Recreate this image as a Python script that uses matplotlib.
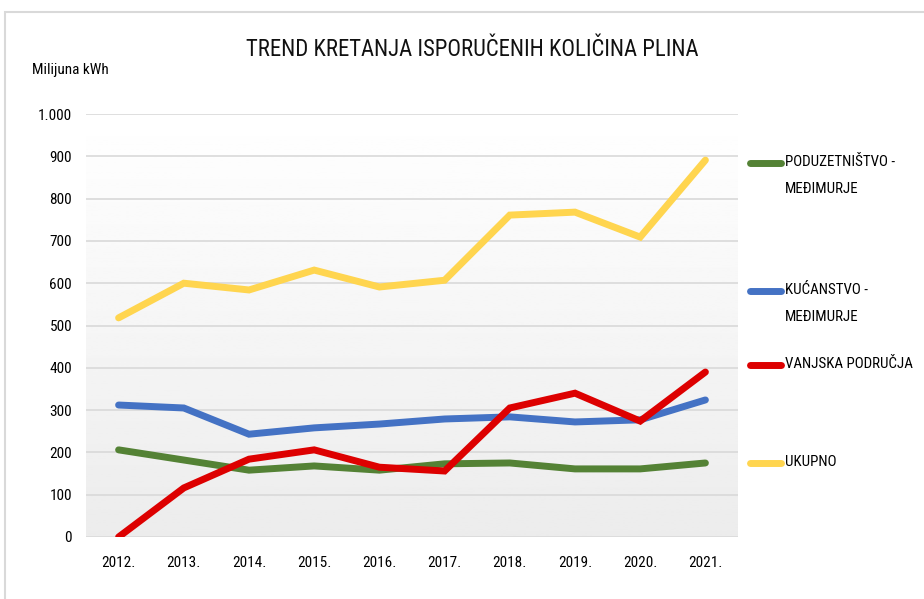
import numpy as np
import matplotlib
matplotlib.use("Agg")
import matplotlib.pyplot as plt
from matplotlib.lines import Line2D
from matplotlib.patches import Rectangle

plt.rcParams['font.family'] = ['Roboto Condensed', 'DejaVu Sans']

years = ['2012.', '2013.', '2014.', '2015.', '2016.', '2017.', '2018.', '2019.', '2020.', '2021.']
poduzetnistvo = [206, 182, 158, 168, 158, 173, 175, 161, 161, 175]
kucanstvo = [312, 305, 243, 258, 267, 279, 284, 272, 277, 324]
vanjska = [0, 116, 184, 206, 165, 156, 305, 340, 274, 390]
ukupno = [518, 600, 584, 631, 591, 607, 761, 768, 709, 891]

series = [
    ('PODUZETNIŠTVO -\nMEĐIMURJE', poduzetnistvo, '#548235'),
    ('KUĆANSTVO -\nMEĐIMURJE', kucanstvo, '#4472c4'),
    ('VANJSKA PODRUČJA', vanjska, '#dd0000'),
    ('UKUPNO', ukupno, '#ffd54f'),
]
yticks = [0, 100, 200, 300, 400, 500, 600, 700, 800, 900, 1000]
ytick_labels = ['0', '100', '200', '300', '400', '500', '600', '700', '800', '900', '1.000']

W, H = 924, 599
fig = plt.figure(figsize=(W / 100, H / 100), dpi=100)
fig.patch.set_facecolor('white')

# outer chart border
fig.add_artist(Rectangle((5 / W, -0.1), 1.2, 1 - 12 / H + 0.1, transform=fig.transFigure,
                         fill=False, edgecolor='#d9d9d9', linewidth=1.5))

ax = fig.add_axes([86 / W, 1 - 537 / H, (738 - 86) / W, (537 - 114) / H])
x = np.arange(len(years))
ax.set_xlim(-0.5, len(years) - 0.5)
ax.set_ylim(0, 1000)

# gradient background
grad = np.linspace(0.925, 1.0, 256).reshape(-1, 1)
ax.imshow(grad, extent=(-0.5, len(years) - 0.5, 0, 1000), aspect='auto', origin='lower',
          cmap='gray', vmin=0, vmax=1, zorder=0)

for v in yticks:
    ax.axhline(v, color='#d9d9d9', linewidth=1.2, zorder=1)

for label, vals, color in series:
    ax.plot(x, vals, color=color, linewidth=5, solid_capstyle='round', solid_joinstyle='miter', zorder=3)

ax.set_xticks(x)
ax.set_xticklabels(years, fontsize=11)
ax.set_yticks(yticks)
ax.set_yticklabels(ytick_labels, fontsize=11)
ax.tick_params(length=0)
ax.tick_params(axis='x', pad=14)
ax.tick_params(axis='y', pad=10)
for s in ax.spines.values():
    s.set_visible(False)

fig.text(472 / W, 1 - 50 / H, 'TREND KRETANJA ISPORUČENIH KOLIČINA PLINA', ha='center', va='center',
         fontsize=16.4, color='#111111')
fig.text(32 / W, 1 - 70 / H, 'Milijuna kWh', ha='left', va='center', fontsize=11)

# legend
leg_y = [163, 291, 365, 463]
for (label, vals, color), yy in zip(series, leg_y):
    fig.add_artist(Line2D([750 / W, 781 / W], [1 - yy / H] * 2, transform=fig.transFigure,
                          color=color, linewidth=5, solid_capstyle='round'))
    fig.text(785 / W, 1 - (yy - 8) / H, label, ha='left', va='top', fontsize=10.8, linespacing=2.2)

fig.savefig('out.png', dpi=100)
